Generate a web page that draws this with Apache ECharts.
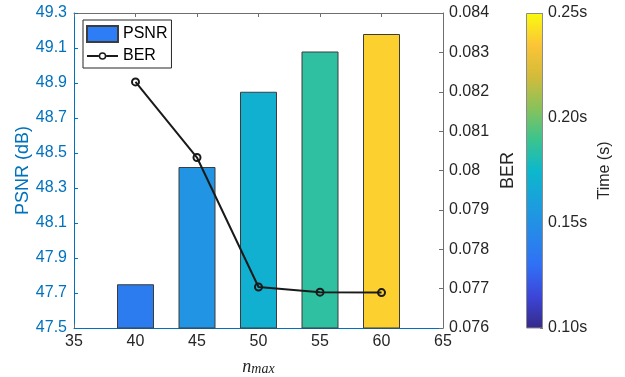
<!DOCTYPE html>
<html>
<head>
<meta charset="utf-8">
<script src="https://cdn.jsdelivr.net/npm/echarts@6/dist/echarts.min.js"></script>
<style>
  html, body { margin: 0; padding: 0; background: #fff; }
  #chart { width: 625px; height: 377px; }
</style>
</head>
<body>
<div id="chart"></div>
<script>
// n_max values on the x axis
const nMax = [40, 45, 50, 55, 60]
// PSNR (dB), left axis, bars
const psnr = [47.75, 48.42, 48.85, 49.08, 49.18]
// BER, right axis, line
const ber = [0.08225, 0.08033, 0.07704, 0.07691, 0.07690]
// run time (s)
const timeSec = [0.1375, 0.1525, 0.170, 0.1855, 0.238]

// tick labels
const xTicks = [35, 40, 45, 50, 55, 60, 65]
const psnrTicks = [47.5, 47.7, 47.9, 48.1, 48.3, 48.5, 48.7, 48.9, 49.1, 49.3]
const berTicks = [0.076, 0.077, 0.078, 0.079, 0.08, 0.081, 0.082, 0.083, 0.084]
const timeTicks = [0.10, 0.15, 0.20, 0.25]

// parula-like colormap, evenly spaced
const parula = ['#352a87', '#3d45d8', '#3070f5', '#2788ea', '#1aa0dc', '#0cb8cc',
    '#3cc48e', '#8ac25a', '#d4bb3a', '#fcc537', '#f9fb0e']

const font = 'Liberation Sans, Arial, sans-serif'
const dark = '#262626'
const blue = '#0072bd'
const grey = '#6e6e6e'

// legend icon for BER: line with a hollow circle, drawn in a 31x16 box
const berIcon = 'path://M0 0L0 0.001Z M31 16L31 15.999Z ' +
    'M0 7H11.7V9H0Z M19.3 7H31V9H19.3Z ' +
    'M19.3 8A3.8 3.8 0 1 0 11.7 8A3.8 3.8 0 1 0 19.3 8Z ' +
    'M17.8 8A2.3 2.3 0 1 1 13.2 8A2.3 2.3 0 1 1 17.8 8Z'

const chart = echarts.init(document.getElementById('chart'))

const barData = nMax.map((x, i) => [x, psnr[i], timeSec[i]])
const berData = nMax.map((x, i) => [x, ber[i]])

chart.setOption({
    animation: false,
    textStyle: { fontFamily: font },
    grid: [
        { left: 74, top: 13, width: 369, height: 315, outerBoundsMode: 'none' },
        { left: 526, top: 13, width: 17, height: 315, outerBoundsMode: 'none' }
    ],
    legend: {
        orient: 'vertical',
        left: 83,
        top: 20,
        padding: [5, 4, 4, 3],
        itemWidth: 31,
        itemHeight: 16,
        itemGap: 5,
        backgroundColor: '#fff',
        borderColor: dark,
        borderWidth: 1,
        borderRadius: 0,
        textStyle: { fontSize: 16, color: '#000', fontFamily: font },
        data: [
            { name: 'PSNR', icon: 'rect' },
            { name: 'BER', icon: berIcon, itemStyle: { color: '#1a1a1a', borderWidth: 0 } }
        ]
    },
    visualMap: {
        show: false,
        type: 'continuous',
        min: timeTicks[0],
        max: timeTicks[timeTicks.length - 1],
        dimension: 2,
        seriesIndex: 0,
        inRange: { color: parula }
    },
    xAxis: [
        {
            type: 'value',
            gridIndex: 0,
            min: 35,
            max: 65,
            interval: 5,
            position: 'bottom',
            axisLine: { lineStyle: { color: blue, width: 1 } },
            axisTick: { inside: true, length: 4, lineStyle: { color: grey }, customValues: xTicks },
            axisLabel: { color: dark, fontSize: 16, margin: 6, customValues: xTicks },
            splitLine: { show: false },
            name: '{n|n}{s|max}',
            nameLocation: 'middle',
            nameGap: 30,
            nameMoveOverlap: false,
            nameTextStyle: {
                rich: {
                    n: { fontFamily: 'Liberation Serif', fontStyle: 'italic', fontSize: 18, lineHeight: 18, color: dark },
                    s: { fontFamily: 'Liberation Serif', fontStyle: 'italic', fontSize: 14, lineHeight: 10, verticalAlign: 'bottom', color: dark }
                }
            }
        },
        {
            type: 'value',
            gridIndex: 0,
            min: 35,
            max: 65,
            interval: 5,
            position: 'top',
            axisLine: { lineStyle: { color: grey, width: 1 } },
            axisTick: { inside: true, length: 4, lineStyle: { color: grey }, customValues: xTicks },
            axisLabel: { show: false },
            splitLine: { show: false }
        },
        {
            type: 'category',
            gridIndex: 1,
            data: ['c'],
            show: false
        }
    ],
    yAxis: [
        {
            type: 'value',
            gridIndex: 0,
            min: psnrTicks[0],
            max: psnrTicks[psnrTicks.length - 1],
            position: 'left',
            axisLine: { show: true, lineStyle: { color: blue, width: 1 } },
            axisTick: { show: true, inside: true, length: 4, lineStyle: { color: blue }, customValues: psnrTicks },
            axisLabel: { color: blue, fontSize: 16, margin: 7, formatter: (v) => v.toFixed(1), customValues: psnrTicks },
            splitLine: { show: false },
            name: 'PSNR (dB)',
            nameLocation: 'middle',
            nameGap: 42,
            nameMoveOverlap: false,
            nameTextStyle: { color: blue, fontSize: 18, fontFamily: font }
        },
        {
            type: 'value',
            gridIndex: 0,
            min: berTicks[0],
            max: berTicks[berTicks.length - 1],
            position: 'right',
            axisLine: { show: true, lineStyle: { color: grey, width: 1 } },
            axisTick: { show: true, inside: true, length: 4, lineStyle: { color: grey }, customValues: berTicks },
            axisLabel: { color: dark, fontSize: 16, margin: 6, formatter: (v) => String(+v.toFixed(3)), customValues: berTicks },
            splitLine: { show: false },
            name: 'BER',
            nameLocation: 'middle',
            nameGap: 56,
            nameMoveOverlap: false,
            nameTextStyle: { color: dark, fontSize: 18, fontFamily: font }
        },
        {
            type: 'value',
            gridIndex: 1,
            min: timeTicks[0],
            max: timeTicks[timeTicks.length - 1],
            position: 'right',
            axisLine: { show: false },
            axisTick: { show: true, inside: true, length: 3, lineStyle: { color: grey }, customValues: timeTicks },
            axisLabel: { color: dark, fontSize: 16, margin: 5, formatter: (v) => v.toFixed(2) + 's', customValues: timeTicks },
            splitLine: { show: false },
            name: 'Time (s)',
            nameLocation: 'middle',
            nameGap: 54,
            nameMoveOverlap: false,
            nameTextStyle: { color: dark, fontSize: 16, fontFamily: font }
        }
    ],
    series: [
        {
            name: 'PSNR',
            type: 'bar',
            xAxisIndex: 0,
            yAxisIndex: 0,
            barWidth: 37,
            itemStyle: { color: '#2d7df7', borderColor: '#3c3c3c', borderWidth: 1 },
            data: barData
        },
        {
            name: 'BER',
            type: 'line',
            xAxisIndex: 0,
            yAxisIndex: 1,
            symbol: 'circle',
            symbolSize: 7,
            lineStyle: { color: '#1a1a1a', width: 2 },
            itemStyle: { color: 'rgba(255,255,255,0)', borderColor: '#1a1a1a', borderWidth: 2 },
            data: berData,
            z: 5
        },
        {
            // colorbar
            name: 'colorbar',
            type: 'bar',
            xAxisIndex: 2,
            yAxisIndex: 2,
            barWidth: '100%',
            silent: true,
            itemStyle: {
                borderColor: '#8c8c8c',
                borderWidth: 1,
                color: new echarts.graphic.LinearGradient(0, 1, 0, 0,
                    parula.map((c, i) => ({ offset: i / (parula.length - 1), color: c })))
            },
            data: [timeTicks[timeTicks.length - 1]]
        }
    ]
})
</script>
</body>
</html>
